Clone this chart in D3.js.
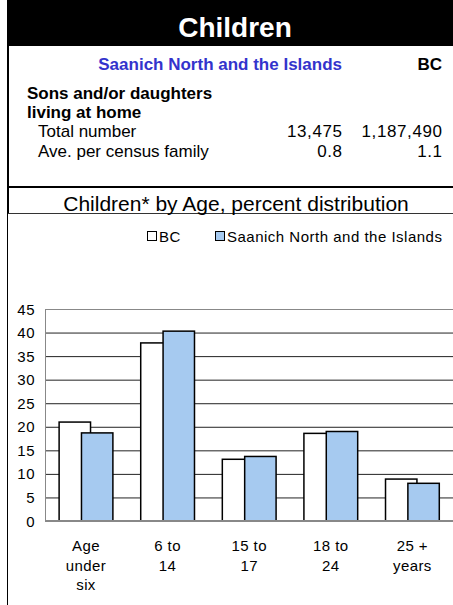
<!DOCTYPE html>
<html>
<head>
<meta charset="utf-8">
<script src="https://cdn.jsdelivr.net/npm/d3@7"></script>
<style>
  body { margin: 0; background: #fff; }
  svg { display: block; font-family: "Liberation Sans", Arial, sans-serif; }
</style>
</head>
<body>
<div id="chartDiv"></div>
<script>
var width = 453;
var height = 605;

// data
var categories = ["Age under six", "6 to 14", "15 to 17", "18 to 24", "25 + years"];
var catLines = [["Age", "under", "six"], ["6 to", "14"], ["15 to", "17"], ["18 to", "24"], ["25 +", "years"]];
var seriesNames = ["BC", "Saanich North and the Islands"];
var bcValues = [21.0, 37.8, 13.1, 18.6, 8.9];
var saanichValues = [18.7, 40.3, 13.7, 19.0, 8.0];
var yTicks = [0, 5, 10, 15, 20, 25, 30, 35, 40, 45];

var tableRows = [
    {label: "Total number", local: "13,475", bc: "1,187,490"},
    {label: "Ave. per census family", local: "0.8", bc: "1.1"}
];

var blue = "#a6caf0";

var svg = d3.select("#chartDiv")
    .append("svg")
    .attr("width", width)
    .attr("height", height);

// header
svg.append("rect")
    .attr("x", 7).attr("y", 0)
    .attr("width", width - 7).attr("height", 46)
    .attr("fill", "#000");

svg.append("text")
    .attr("x", 235).attr("y", 37)
    .attr("text-anchor", "middle")
    .attr("fill", "#fff")
    .style("font-weight", "bold")
    .style("font-size", "28px")
    .text("Children");

// borders of the table part
svg.append("line").attr("x1", 8).attr("x2", 8).attr("y1", 0).attr("y2", 214)
    .attr("stroke", "#000").attr("stroke-width", 2);
svg.append("line").attr("x1", 8).attr("x2", width).attr("y1", 187).attr("y2", 187)
    .attr("stroke", "#000").attr("stroke-width", 2);
svg.append("line").attr("x1", 8).attr("x2", width).attr("y1", 213.5).attr("y2", 213.5)
    .attr("stroke", "#333").attr("stroke-width", 1);
svg.append("line").attr("x1", 7.5).attr("x2", 7.5).attr("y1", 214).attr("y2", height)
    .attr("stroke", "#000").attr("stroke-width", 1);

var colLocal = 342, colBC = 442;

svg.append("text")
    .attr("x", colLocal).attr("y", 70)
    .attr("text-anchor", "end")
    .attr("fill", "#3333cc")
    .style("font-weight", "bold").style("font-size", "17px")
    .text(seriesNames[1]);
svg.append("text")
    .attr("x", colBC).attr("y", 70)
    .attr("text-anchor", "end")
    .style("font-weight", "bold").style("font-size", "17px")
    .text("BC");

svg.append("text").attr("x", 27).attr("y", 99)
    .style("font-weight", "bold").style("font-size", "17px")
    .text("Sons and/or daughters");
svg.append("text").attr("x", 27).attr("y", 118)
    .style("font-weight", "bold").style("font-size", "17px")
    .text("living at home");

var rows = svg.append("g").selectAll("g")
    .data(tableRows)
    .join("g")
    .attr("transform", (d, i) => `translate(0,${137 + i * 20})`)
    .style("font-size", "17px");
rows.append("text").attr("x", 38).text(d => d.label);
rows.append("text").attr("x", colLocal + 0.6).attr("text-anchor", "end")
    .style("letter-spacing", "0.6px").text(d => d.local);
rows.append("text").attr("x", colBC + 0.6).attr("text-anchor", "end")
    .style("letter-spacing", "0.6px").text(d => d.bc);

// chart title
svg.append("text")
    .attr("x", 236).attr("y", 211)
    .attr("text-anchor", "middle")
    .style("font-size", "21px")
    .text("Children* by Age, percent distribution");

// legend
var legendX = [147, 215];
var legend = svg.append("g").selectAll("g")
    .data(seriesNames)
    .join("g")
    .attr("transform", (d, i) => `translate(${legendX[i]},231)`);
legend.append("rect")
    .attr("x", 0.5).attr("y", 0.5)
    .attr("width", 9).attr("height", 9)
    .attr("fill", (d, i) => i === 0 ? "#fff" : blue)
    .attr("stroke", "#000");
legend.append("text")
    .attr("x", 12).attr("y", 10.5)
    .style("font-size", "15px")
    .style("letter-spacing", "0.5px")
    .text(d => d);

// plot
var margin = {left: 45, right: 0, top: 309, bottom: 521};
var x = d3.scaleBand()
    .domain(categories)
    .range([margin.left, width]);
var y = d3.scaleLinear()
    .domain([0, 45])
    .range([margin.bottom, margin.top]);

var grid = svg.append("g")
    .attr("transform", `translate(${margin.left},0)`)
    .call(d3.axisLeft(y).tickValues(yTicks).tickSize(-(width - margin.left)).tickFormat(""));
grid.select(".domain").remove();
grid.selectAll(".tick line")
    .attr("stroke", d => d === 45 ? "#888" : "#222");

svg.append("line")
    .attr("x1", margin.left + 0.5).attr("x2", margin.left + 0.5)
    .attr("y1", y(45)).attr("y2", y(0))
    .attr("stroke", "#888");

svg.append("g")
    .selectAll("text")
    .data(yTicks)
    .join("text")
    .attr("x", 35)
    .attr("y", d => y(d) + 5.5)
    .attr("text-anchor", "end")
    .style("font-size", "15px")
    .style("letter-spacing", "0.5px")
    .text(d => d);

var bw = x.bandwidth();
var barW = bw * 0.385;
var groups = svg.append("g").selectAll("g")
    .data(categories)
    .join("g")
    .attr("transform", d => `translate(${x(d) + bw / 2},0)`);

groups.append("rect")
    .attr("x", -bw * 0.327)
    .attr("y", (d, i) => y(bcValues[i]))
    .attr("width", barW)
    .attr("height", (d, i) => y(0) - y(bcValues[i]))
    .attr("fill", "#fff")
    .attr("stroke", "#000")
    .attr("stroke-width", 1.5);

groups.append("rect")
    .attr("x", -bw * 0.053)
    .attr("y", (d, i) => y(saanichValues[i]))
    .attr("width", barW)
    .attr("height", (d, i) => y(0) - y(saanichValues[i]))
    .attr("fill", blue)
    .attr("stroke", "#000")
    .attr("stroke-width", 1.5);

svg.append("line")
    .attr("x1", margin.left).attr("x2", width)
    .attr("y1", y(0)).attr("y2", y(0))
    .attr("stroke", "#888").attr("stroke-width", 2);

groups.append("text")
    .attr("text-anchor", "middle")
    .style("font-size", "15px")
    .style("letter-spacing", "0.4px")
    .selectAll("tspan")
    .data((d, i) => catLines[i])
    .join("tspan")
    .attr("x", 0.2)
    .attr("y", (d, i) => 551 + i * 19.5)
    .text(d => d);
</script>
</body>
</html>
